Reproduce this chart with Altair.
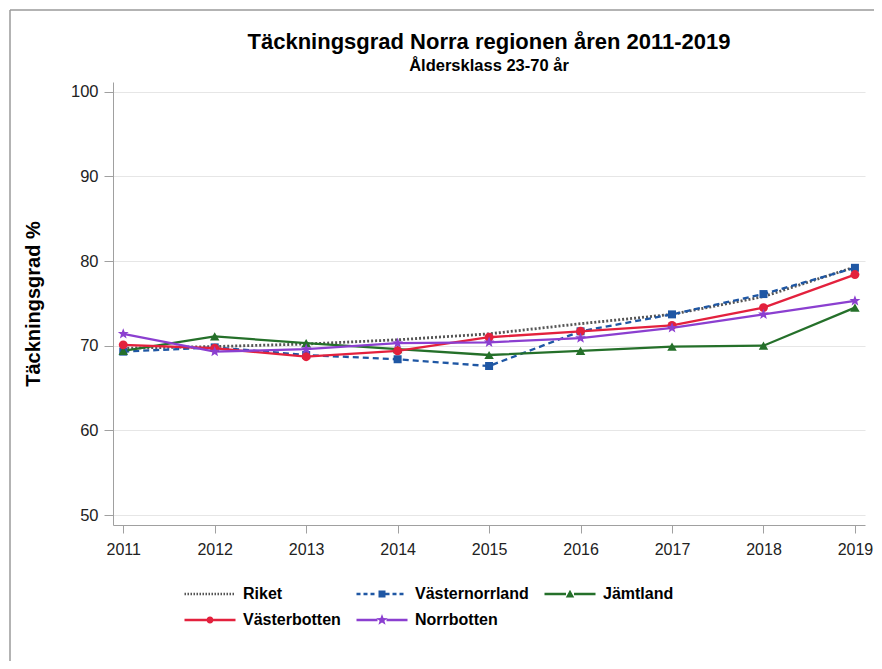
import math
import altair as alt
import pandas as pd

# ---------------- data ----------------
years = [2011, 2012, 2013, 2014, 2015, 2016, 2017, 2018, 2019]
series_order = ["Riket", "Västernorrland", "Jämtland", "Västerbotten", "Norrbotten"]
riket = [69.7, 69.9, 70.2, 70.7, 71.4, 72.6, 73.7, 75.8, 79.3]
vasternorrland = [69.3, 69.8, 68.9, 68.4, 67.6, 71.7, 73.7, 76.1, 79.2]
jamtland = [69.4, 71.1, 70.3, 69.6, 68.9, 69.4, 69.9, 70.0, 74.5]
vasterbotten = [70.1, 69.7, 68.7, 69.4, 71.0, 71.7, 72.4, 74.5, 78.4]
norrbotten = [71.4, 69.3, 69.6, 70.3, 70.4, 70.9, 72.1, 73.7, 75.3]
y_ticks = [50, 60, 70, 80, 90, 100]

values = {
    "Riket": riket,
    "Västernorrland": vasternorrland,
    "Jämtland": jamtland,
    "Västerbotten": vasterbotten,
    "Norrbotten": norrbotten,
}
rows = []
for s in series_order:
    for yr, v in zip(years, values[s]):
        rows.append({"year": yr, "value": v, "series": s})
df = pd.DataFrame(rows)

# ---------------- styles ----------------
colors = ["#555555", "#1f57a4", "#25702a", "#e3213d", "#8b3fd0"]
dashes = [[2, 2], [6, 4], None, None, None]
FONT = "Liberation Sans"


def fmt(v):
    return f"{v:.3f}".rstrip("0").rstrip(".")


def rect(x0, x1, h):
    return f"M{fmt(x0)},{fmt(-h)}H{fmt(x1)}V{fmt(h)}H{fmt(x0)}Z"


def star(R, r):
    pts = []
    for i in range(10):
        a = math.radians(-90 + 36 * i)
        rad = R if i % 2 == 0 else r
        pts.append((rad * math.cos(a), rad * math.sin(a)))
    return "M" + "L".join(f"{fmt(x)},{fmt(y)}" for x, y in pts) + "Z"


def square(h):
    return rect(-h, h, h)


def circle(r):
    return f"M{fmt(-r)},0A{fmt(r)},{fmt(r)} 0 1,1 {fmt(r)},0A{fmt(r)},{fmt(r)} 0 1,1 {fmt(-r)},0Z"


def triangle(w):
    return f"M0,{fmt(-w)}L{fmt(w)},{fmt(w * 0.8)}L{fmt(-w)},{fmt(w * 0.8)}Z"


L = 5.1   # half length of legend line (units)
TH = 0.25  # half thickness


def dotted(x0, x1, dot, gap):
    out = []
    x = x0
    while x + dot <= x1 + 1e-6:
        out.append(rect(x, x + dot, TH))
        x += dot + gap
    return "".join(out)


def solid_with(marker, gap):
    return rect(-L, -gap, TH) + rect(gap, L, TH) + marker


def dashed_with(marker, gap):
    out = []
    x = -L
    while x + 0.8 <= -gap + 1e-6:
        out.append(rect(x, x + 0.8, TH))
        x += 1.4
    x = gap
    while x + 0.8 <= L + 1e-6:
        out.append(rect(x, x + 0.8, TH))
        x += 1.4
    return "".join(out) + marker


legend_shapes = [
    dotted(-L, L, 0.3, 0.3),
    dashed_with(square(0.7), 0.7),
    solid_with(triangle(0.85), 0.8),
    solid_with(circle(0.7), 0.6),
    solid_with(star(1.2, 0.5), 0.9),
]

marker_shapes = [None, "square", "triangle-up", "circle", star(1.0, 0.42)]
marker_sizes = [0, 64, 90, 80, 130]

base = alt.Chart(df).encode(
    x=alt.X(
        "year:Q",
        scale=alt.Scale(domain=[2010.888, 2019.11], nice=False, zero=False),
        axis=alt.Axis(
            values=years, format="d", title=None, grid=False,
            tickSize=8, labelPadding=8, labelFontSize=16, labelFont=FONT,
            labelColor="#222222", domainColor="#a0a0a0", tickColor="#a0a0a0",
            labelFlush=False,
        ),
    ),
    y=alt.Y(
        "value:Q",
        scale=alt.Scale(domain=[48.82, 101.15], nice=False, zero=False),
        axis=alt.Axis(
            values=y_ticks, title="Täckningsgrad %", grid=True,
            gridColor="#e6e6e6", gridWidth=1.2,
            tickSize=9, labelPadding=6, labelFontSize=16.5, labelFont=FONT,
            labelColor="#222222", domainColor="#a0a0a0", tickColor="#a0a0a0",
            titleFont=FONT, titleFontSize=20, titleFontWeight="bold",
            titleColor="#000000", titlePadding=27,
        ),
    ),
)

line_layers = []
marker_layers = []
for i, name in enumerate(series_order):
    sub = base.transform_filter(alt.datum.series == name)
    kw = {"color": colors[i], "strokeWidth": 2.8 if i == 0 else 2.3}
    if dashes[i] is not None:
        kw["strokeDash"] = dashes[i]
    line_layers.append(sub.mark_line(**kw))
    if marker_shapes[i] is not None:
        marker_layers.append(
            sub.mark_point(filled=True, opacity=1, color=colors[i],
                           shape=marker_shapes[i], size=marker_sizes[i])
        )

legend_layer = base.mark_point(filled=True, opacity=0).encode(
    color=alt.Color(
        "series:N", scale=alt.Scale(domain=series_order, range=colors),
        legend=alt.Legend(title=None),
    ),
    shape=alt.Shape(
        "series:N",
        scale=alt.Scale(domain=series_order, range=legend_shapes),
        legend=alt.Legend(title=None),
    ),
)

frame_df = pd.DataFrame({"k": [0]})
frame_left = alt.Chart(frame_df).mark_rule(color="#9a9a9a", strokeWidth=1.5).encode(
    x=alt.value(-103), y=alt.value(-72), y2=alt.value(590)
)
frame_top = alt.Chart(frame_df).mark_rule(color="#9a9a9a", strokeWidth=1.5).encode(
    x=alt.value(-103), x2=alt.value(770), y=alt.value(-72)
)

chart = (
    alt.layer(frame_left, frame_top, *line_layers, *marker_layers, legend_layer)
    .properties(
        width=752,
        height=443,
        title=alt.TitleParams(
            text="Täckningsgrad Norra regionen åren 2011-2019",
            subtitle="Åldersklass 23-70 år",
            font=FONT, fontSize=22, fontWeight="bold", color="#000000",
            subtitleFont=FONT, subtitleFontSize=16.5, subtitleFontWeight="bold",
            subtitleColor="#000000", anchor="middle", offset=-66, subtitlePadding=4,
        ),
        autosize=alt.AutoSizeParams(type="none"),
        padding={"left": 105, "top": 74, "right": 9, "bottom": 136},
    )
    .configure_view(stroke=None)
    .configure_legend(
        orient="none", legendX=69, legendY=504, columns=3, direction="horizontal",
        labelFont=FONT, labelFontSize=16, labelFontWeight="bold", labelColor="#000000",
        symbolSize=100, symbolOffset=20, labelOffset=25, symbolStrokeWidth=0,
        symbolOpacity=1, columnPadding=13, rowPadding=10, padding=0,
        labelLimit=300,
    )
)

chart.save("out.html", embed_options={"renderer": "svg", "actions": False})
